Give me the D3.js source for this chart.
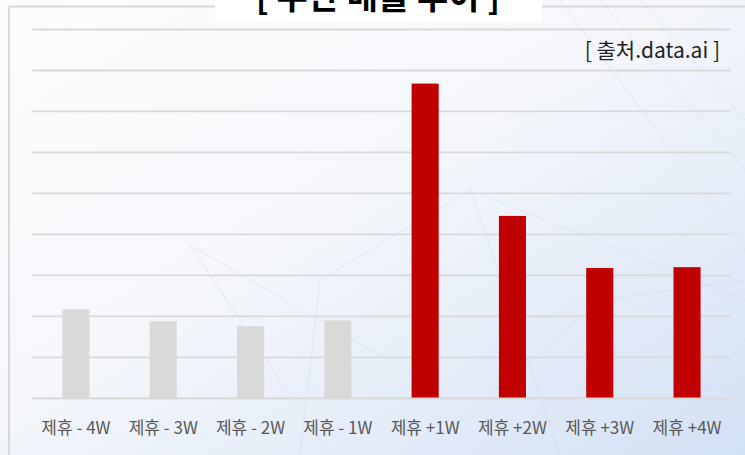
<!DOCTYPE html>
<html><head><meta charset="utf-8">
<script src="https://cdn.jsdelivr.net/npm/d3@7"></script>
<style>html,body{margin:0;padding:0;overflow:hidden;background:#fff}</style>
</head><body>
<svg id="c" width="745" height="455"></svg>
<script>
const categories = ["제휴 - 4W","제휴 - 3W","제휴 - 2W","제휴 - 1W","제휴 +1W","제휴 +2W","제휴 +3W","제휴 +4W"];
const values = [2.17, 1.88, 1.76, 1.90, 7.68, 4.45, 3.18, 3.20];
const barColors = ["#d9d9d9","#d9d9d9","#d9d9d9","#d9d9d9","#c00000","#c00000","#c00000","#c00000"];
const gridTicks = [0,1,2,3,4,5,6,7,8,9];
const title = "[ 주간 매출 추이 ]";
const source = "[ 출처.data.ai ]";

const W = 745, H = 455;
const svg = d3.select("#c");
const defs = svg.append("defs");
const g = defs.append("linearGradient").attr("id","bg").attr("x1","0").attr("y1","0").attr("x2","1").attr("y2","1");
g.append("stop").attr("offset","0").attr("stop-color","#fcfcfc");
g.append("stop").attr("offset","0.45").attr("stop-color","#f5f7fb");
g.append("stop").attr("offset","1").attr("stop-color","#d3e1f5");
svg.append("rect").attr("width",W).attr("height",H).attr("fill","url(#bg)");

// faint decorative network lines
const deco = svg.append("g").attr("stroke","#c8d6ec").attr("stroke-width",1).attr("opacity",0.4).attr("fill","none");
[[190,245,440,390],[190,245,330,455],[320,280,470,190],[470,190,560,455],[470,190,745,300],[600,0,745,170],[640,0,745,120],[560,0,745,250],[420,455,600,300],[600,300,745,280],[650,455,745,340],[320,280,300,455]]
  .forEach(d=>deco.append("line").attr("x1",d[0]).attr("y1",d[1]).attr("x2",d[2]).attr("y2",d[3]));

// frame
svg.append("path").attr("d","M9,455 V6.5 H745").attr("fill","none").attr("stroke","#d9d9d9").attr("stroke-width",2);

const margin = {left:32.3, right:14.3, top:29.5, bottom:56.7};
const x = d3.scaleBand().domain(categories).range([margin.left, W-margin.right]).paddingInner(0.69).paddingOuter(0.345);
const y = d3.scaleLinear().domain([0,9]).range([H-margin.bottom, margin.top]);

// gridlines
svg.append("g").selectAll("line").data(gridTicks).join("line")
  .attr("x1",margin.left).attr("x2",W-margin.right)
  .attr("y1",d=>y(d)).attr("y2",d=>y(d))
  .attr("stroke","#d9d9d9").attr("stroke-width",1.8);

// bars
svg.append("g").selectAll("rect").data(values).join("rect")
  .attr("x",(d,i)=>x(categories[i])).attr("width",x.bandwidth())
  .attr("y",d=>y(d)).attr("height",d=>y(0)-y(d))
  .attr("fill",(d,i)=>barColors[i]);

// baseline over bars
svg.append("line").attr("x1",margin.left).attr("x2",W-margin.right).attr("y1",y(0)).attr("y2",y(0)).attr("stroke","#d9d9d9").attr("stroke-width",1.8);

// x axis labels
const xAxis = d3.axisBottom(x).tickSize(0).tickPadding(0);
const ax = svg.append("g").attr("transform",`translate(0,${y(0)})`).call(xAxis);
ax.select(".domain").remove();
ax.selectAll("text").attr("dy",null).attr("y",36)
  .attr("font-family","'Noto Sans CJK KR','Malgun Gothic',sans-serif").attr("font-size","17px").attr("fill","#595959");

// title box
svg.append("rect").attr("x",215).attr("y",-2).attr("width",327).attr("height",24).attr("fill","#ffffff");
svg.append("text").attr("x",378).attr("y",9).attr("text-anchor","middle")
  .attr("font-family","'Noto Sans CJK KR',sans-serif").attr("font-weight","bold").attr("font-size","34px").attr("fill","#000")
  .text(title);

// source
svg.append("text").attr("x",720).attr("y",58).attr("text-anchor","end")
  .attr("font-family","'Noto Sans CJK KR',sans-serif").attr("font-size","21px").attr("fill","#222")
  .text(source);
</script>
</body></html>
